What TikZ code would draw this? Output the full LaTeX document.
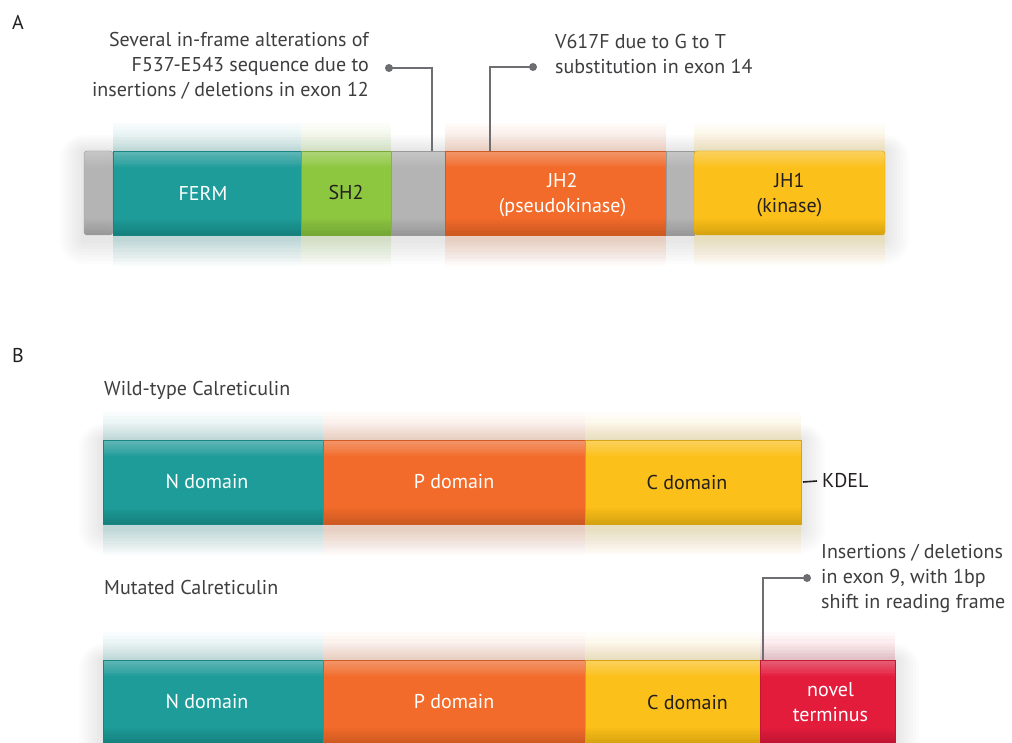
\documentclass[tikz,border=0pt]{standalone}
\usepackage{fontspec}
\setmainfont{PT Sans}
\usetikzlibrary{backgrounds,calc}
\definecolor{tealc}{HTML}{1E9C99}
\definecolor{greenc}{HTML}{8DC63F}
\definecolor{orangec}{HTML}{F26B2A}
\definecolor{yellowc}{HTML}{FBC019}
\definecolor{redc}{HTML}{E41C3C}
\definecolor{grayc}{HTML}{B4B4B4}
\definecolor{ink}{HTML}{3E3E40}
\definecolor{darkc}{HTML}{231F20}
\definecolor{leaderc}{HTML}{6D6E71}
\tikzset{
  seg/.style={rectangle, inner sep=0pt, outer sep=0pt, anchor=north west,
    minimum height=84pt, align=center, fill=#1, draw=#1!85!black, line width=0.4pt,
    font=\fontsize{20}{25}\selectfont,
    path picture={
      \foreach \k in {1,...,9}{
        \fill[white, opacity=0.04] (path picture bounding box.north west) rectangle
          ([yshift=-\k*1.8pt]path picture bounding box.north east);}
      \foreach \k in {1,...,9}{
        \fill[black, opacity=0.014] (path picture bounding box.south west) rectangle
          ([yshift=\k*1.8pt]path picture bounding box.south east);}
    }},
  wtext/.style={text=white},
  btext/.style={text=darkc},
  seglabel/.style={inner sep=0pt, align=center, font=\fontsize{20}{25}\selectfont},
  note/.style={inner sep=0pt, text=ink, font=\fontsize{20}{25}\selectfont},
  dotc/.style={circle, fill=leaderc, inner sep=0pt, minimum size=8pt},
  leader/.style={draw=leaderc, line width=1.6pt},
}
% coloured halo above and below one segment
\newcommand\glowbox[2]{%
  \begin{pgfonlayer}{background}
  \foreach \i in {1,...,8}{
    \fill[#2, opacity=0.022]
      ($(#1.south west)+(0,-\i*3.5pt-3pt)$) rectangle
      ($(#1.north east)+(0,\i*3.5pt)$);
  }
  \end{pgfonlayer}}
% soft grey shadow round a whole bar
\newcommand\barshadow[2]{%
  \begin{pgfonlayer}{background}
  \foreach \i in {1,...,8}{
    \fill[black, opacity=0.012, rounded corners=\i*3pt]
      ($(#1.south west)+(-\i*3pt,-\i*3pt-5pt)$) rectangle
      ($(#2.north east)+(\i*3pt,\i*2pt)$);
  }
  \end{pgfonlayer}}
\begin{document}
\begin{tikzpicture}[x=1pt,y=-1pt]
\useasboundingbox (0,0) rectangle (1012,743);
\clip (0,0) rectangle (1012,743);
\begin{pgfonlayer}{background}
\fill[white] (0,0) rectangle (1012,743);
\end{pgfonlayer}

% panel labels
\node[note, text=darkc] (labA) at (18,22) {A};
\node[note, text=darkc] (labB) at (18,355) {B};

% ---- JAK2 bar ----
\node[seg=grayc, minimum width=29pt, rounded corners=3pt] (g1) at (84,151) {};
\node[seg=tealc, minimum width=188pt] (ferm) at (g1.north east) {};
\node[seg=greenc, minimum width=90pt] (sh2) at (ferm.north east) {};
\node[seg=grayc, minimum width=54pt] (g2) at (sh2.north east) {};
\node[seg=orangec, minimum width=221pt] (jh2) at (g2.north east) {};
\node[seg=grayc, minimum width=28pt] (g3) at (jh2.north east) {};
\node[seg=yellowc, minimum width=191pt, rounded corners=3pt] (jh1) at (g3.north east) {};
\node[seglabel, wtext] (fermL) at ([xshift=-4pt]ferm.center) {FERM};
\node[seglabel, btext] (sh2L) at (sh2.center) {SH2};
\node[seglabel, wtext] (jh2L) at ([xshift=7pt,yshift=-2pt]jh2.center) {JH2\\(pseudokinase)};
\node[seglabel, btext] (jh1L) at ([yshift=-2pt]jh1.center) {JH1\\(kinase)};

\barshadow{g1}{jh1}
\glowbox{ferm}{tealc}
\glowbox{sh2}{greenc}
\glowbox{jh2}{orangec}
\glowbox{jh1}{yellowc}

% annotations top
\node[note, align=right, anchor=east] (t1) at (369,66)
  {Several in-frame alterations of\\F537-E543 sequence due to\\insertions / deletions in exon 12};
\node[note, align=left, anchor=west] (t2) at (555,54)
  {V617F due to G to T\\substitution in exon 14};
\coordinate (p1) at (432,151);
\coordinate (p2) at (490,151);
\node[dotc] (d1) at (389,68) {};
\node[dotc] (d2) at (533,67) {};
\draw[leader] (p1) |- (d1.center);
\draw[leader] (p2) |- (d2.center);

% ---- Wild-type calreticulin ----
\node[note, anchor=west] (wt) at (104,390) {Wild-type Calreticulin};
\node[seg=tealc, minimum width=220pt] (n1) at (103,440) {};
\node[seg=orangec, minimum width=262pt] (pd1) at (n1.north east) {};
\node[seg=yellowc, minimum width=216pt] (c1) at (pd1.north east) {};
\node[seglabel, wtext] (n1L) at ([xshift=-6pt]n1.center) {N domain};
\node[seglabel, wtext] (pd1L) at (pd1.center) {P domain};
\node[seglabel, btext] (c1L) at ([xshift=-6pt]c1.center) {C domain};
\barshadow{n1}{c1}
\glowbox{n1}{tealc}
\glowbox{pd1}{orangec}
\glowbox{c1}{yellowc}
\node[note, text=darkc, anchor=west] (kdel) at (822,481) {KDEL};
\draw[darkc, line width=1.6pt] ([xshift=2pt]c1.east) -- ([xshift=-5pt]kdel.west);

% ---- Mutated calreticulin ----
\node[note, anchor=west] (mt) at (104,587) {Mutated Calreticulin};
\node[seg=tealc, minimum width=220pt] (n2) at (103,660) {};
\node[seg=orangec, minimum width=262pt] (pd2) at (n2.north east) {};
\node[seg=yellowc, minimum width=175pt] (c2) at (pd2.north east) {};
\node[seg=redc, minimum width=135pt] (nov) at (c2.north east) {};
\node[seglabel, wtext] (n2L) at ([xshift=-6pt]n2.center) {N domain};
\node[seglabel, wtext] (pd2L) at (pd2.center) {P domain};
\node[seglabel, btext] (c2L) at ([xshift=15pt]c2.center) {C domain};
\node[seglabel, wtext] (novL) at ([xshift=3pt]nov.center) {novel\\terminus};
\barshadow{n2}{nov}
\glowbox{n2}{tealc}
\glowbox{pd2}{orangec}
\glowbox{c2}{yellowc}
\glowbox{nov}{redc}

\node[note, align=left, anchor=west] (t3) at (821,578)
  {Insertions / deletions\\in exon 9, with 1bp\\shift in reading frame};
\coordinate (p3) at (763,660);
\node[dotc] (d3) at (807,578) {};
\draw[leader] (p3) |- (d3.center);
\end{tikzpicture}
\end{document}
